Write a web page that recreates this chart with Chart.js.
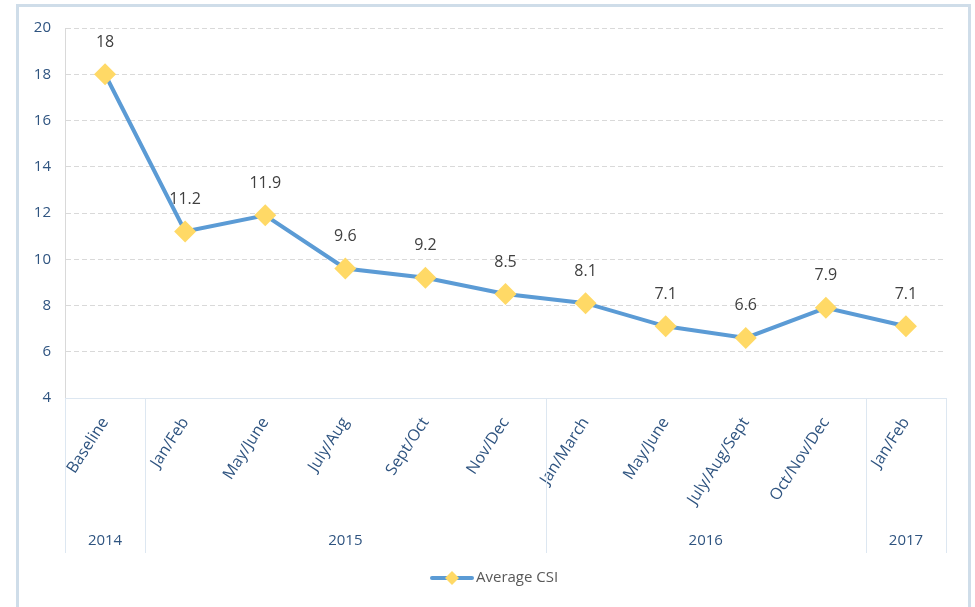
<!DOCTYPE html>
<html>
<head>
<meta charset="utf-8">
<script src="https://cdn.jsdelivr.net/npm/chart.js@4.4.1/dist/chart.umd.min.js"></script>
<style>
  html, body { margin: 0; padding: 0; background: #ffffff; overflow: hidden; }
  #frame { position: absolute; left: 16px; top: 4px; width: 949px; height: 640px; border: 3px solid #cfdde9; }
  #chartCanvas { position: absolute; left: 0; top: 0; }
</style>
</head>
<body>
<div id="frame"></div>
<canvas id="chartCanvas" width="975" height="607"></canvas>
<script>
// ---- chart data ----
var periodLabels = ['Baseline','Jan/Feb','May/June','July/Aug','Sept/Oct','Nov/Dec','Jan/March','May/June','July/Aug/Sept','Oct/Nov/Dec','Jan/Feb'];
var averageCSI = [18, 11.2, 11.9, 9.6, 9.2, 8.5, 8.1, 7.1, 6.6, 7.9, 7.1];
var yearLabels = ['2014','2015','2016','2017'];
var yearSpans = [1, 5, 4, 1];   // how many periods belong to each year
var seriesName = 'Average CSI';
var yTicks = { min: 4, max: 20, step: 2 };

var tickColor = '#2f5480';
var fontName = "'Open Sans', 'Noto Sans', sans-serif";

// value labels above each diamond
var valueLabelPlugin = {
	id: 'valueLabels',
	afterDatasetsDraw: function(chart)
	{
		var ctx = chart.ctx;
		var meta = chart.getDatasetMeta(0);
		ctx.save();
		ctx.font = '16px ' + fontName;
		ctx.fillStyle = '#404040';
		ctx.textAlign = 'center';
		ctx.textBaseline = 'middle';
		meta.data.forEach(function(pt, i){
			ctx.fillText(String(averageCSI[i]), pt.x, pt.y - 32);
		});
		ctx.restore();
	}
};

// year row + group separators under the x axis
var yearGroupPlugin = {
	id: 'yearGroups',
	afterDraw: function(chart)
	{
		var ctx = chart.ctx;
		var xs = chart.scales.x;
		var top = chart.chartArea.bottom;
		var bottom = xs.bottom;
		var half = (xs.getPixelForValue(1) - xs.getPixelForValue(0)) / 2;
		ctx.save();
		ctx.strokeStyle = '#dde7f1';
		ctx.lineWidth = 1;
		ctx.font = '15px ' + fontName;
		ctx.fillStyle = tickColor;
		ctx.textAlign = 'center';
		ctx.textBaseline = 'middle';
		var start = 0;
		for (var k = 0; k < yearLabels.length; k++)
		{
			var left = xs.getPixelForValue(start) - half;
			var right = xs.getPixelForValue(start + yearSpans[k] - 1) + half;
			ctx.beginPath();
			ctx.moveTo(Math.round(left) + 0.5, top); ctx.lineTo(Math.round(left) + 0.5, bottom);
			ctx.moveTo(Math.round(right) + 0.5, top); ctx.lineTo(Math.round(right) + 0.5, bottom);
			ctx.stroke();
			ctx.fillText(yearLabels[k], (left + right) / 2, bottom - 12);
			start += yearSpans[k];
		}
		ctx.restore();
	}
};

// legend: line sample with a diamond, then the series name
var lineLegendPlugin = {
	id: 'lineLegend',
	afterDraw: function(chart)
	{
		var ctx = chart.ctx;
		var y = chart.scales.x.bottom + 25;
		var x0 = 432;
		ctx.save();
		ctx.strokeStyle = '#5b9bd5';
		ctx.lineWidth = 4;
		ctx.lineCap = 'round';
		ctx.beginPath(); ctx.moveTo(x0, y); ctx.lineTo(x0 + 40, y); ctx.stroke();
		ctx.fillStyle = '#ffd966';
		ctx.beginPath();
		ctx.moveTo(x0 + 20, y - 7); ctx.lineTo(x0 + 27, y); ctx.lineTo(x0 + 20, y + 7); ctx.lineTo(x0 + 13, y);
		ctx.closePath(); ctx.fill();
		ctx.font = '15px ' + fontName;
		ctx.fillStyle = '#595959';
		ctx.textAlign = 'left';
		ctx.textBaseline = 'middle';
		ctx.fillText(seriesName, x0 + 44, y);
		ctx.restore();
	}
};

var chartConfig = {
	type: 'line',
	data: {
		labels: periodLabels,
		datasets: [{
			label: seriesName,
			data: averageCSI,
			borderColor: '#5b9bd5',
			borderWidth: 4,
			tension: 0,
			pointStyle: 'rectRot',
			pointRadius: 11,
			pointHoverRadius: 11,
			pointBackgroundColor: '#ffd966',
			pointBorderColor: '#ffd966',
			pointBorderWidth: 0
		}]
	},
	options: {
		responsive: false,
		animation: false,
		layout: { padding: { left: 20, right: 29, top: 28, bottom: 54 } },
		plugins: {
			legend: { display: false },
			tooltip: { enabled: false }
		},
		scales: {
			x: {
				offset: true,
				grid: { display: false, drawTicks: false },
				border: { color: '#dde7f1', width: 1 },
				ticks: {
					minRotation: 57, maxRotation: 57,
					padding: 16,
					color: tickColor,
					font: { family: fontName, size: 16 }
				},
				afterFit: function(scale){ scale.height = 155; }
			},
			y: {
				min: yTicks.min,
				max: yTicks.max,
				grid: { color: '#d9d9d9', drawTicks: false, lineWidth: 1 },
				border: { display: true, color: '#d9d9d9', dash: [5, 3] },
				ticks: {
					stepSize: yTicks.step,
					padding: 14,
					color: tickColor,
					font: { family: fontName, size: 15 }
				},
				afterFit: function(scale){ scale.width = 45; }
			}
		}
	},
	plugins: [valueLabelPlugin, yearGroupPlugin, lineLegendPlugin]
};

var ChartCreator = new Chart(document.getElementById('chartCanvas'), chartConfig);
</script>
</body>
</html>
